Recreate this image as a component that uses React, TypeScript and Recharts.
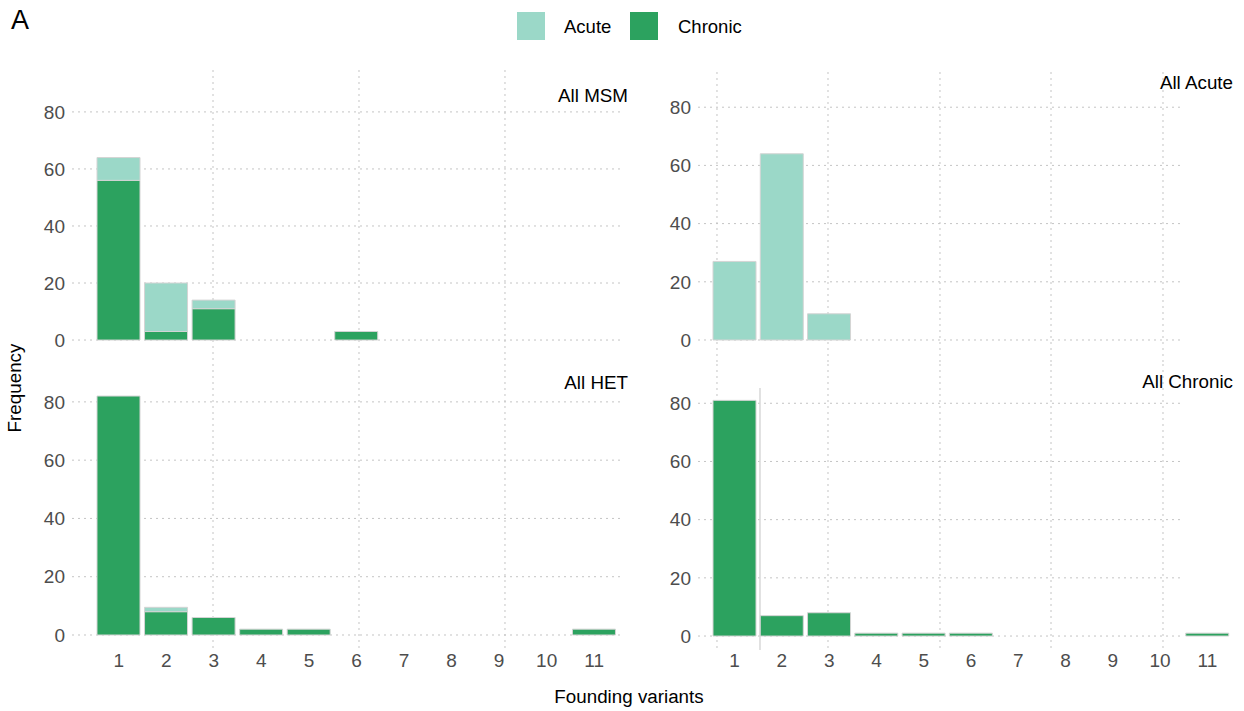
import React from "react";
import { BarChart, Bar, XAxis, YAxis, CartesianGrid } from "recharts";

// founding variant categories (x axis)
const variants = [1, 2, 3, 4, 5, 6, 7, 8, 9, 10, 11];
const yTicks = [0, 20, 40, 60, 80];

// panel values, one entry per variant
const msmChronic = [56, 3, 11, 0, 0, 3, 0, 0, 0, 0, 0];
const msmAcute = [8, 17, 3, 0, 0, 0, 0, 0, 0, 0, 0];
const acuteAcute = [27, 64, 9, 0, 0, 0, 0, 0, 0, 0, 0];
const acuteChronic = [0, 0, 0, 0, 0, 0, 0, 0, 0, 0, 0];
const hetChronic = [82, 8, 6, 2, 2, 0, 0, 0, 0, 0, 2];
const hetAcute = [0, 1.5, 0, 0, 0, 0, 0, 0, 0, 0, 0];
const chronicChronic = [81, 7, 8, 1, 1, 1, 0, 0, 0, 0, 1];
const chronicAcute = [0, 0, 0, 0, 0, 0, 0, 0, 0, 0, 0];

const ACUTE = "#9bd8c8";
const CHRONIC = "#2ca25f";
const GRID = "#c4c4c4";
const FONT = "'Liberation Sans', Arial, Helvetica, sans-serif";

const makeRows = (acute: number[], chronic: number[]) =>
  variants.map((v, i) => ({ v: String(v), acute: acute[i], chronic: chronic[i] }));

interface PanelProps {
  left: number;
  top: number;
  width: number;
  height: number;
  margin: { top: number; right: number; bottom: number; left: number };
  yDomain: [number, number];
  xPadding: { left: number; right: number };
  rows: { v: string; acute: number; chronic: number }[];
  showX: boolean;
  vFracs: number[];
  hEnd: number;
  divider?: number;
}

const Y_W = 45;
const X_H = 30;

const Panel = (p: PanelProps) => {
  const plotLeft = p.margin.left + Y_W;
  const plotWidth = p.width - plotLeft - p.margin.right;
  const plotTop = p.margin.top;
  const plotHeight = p.height - p.margin.top - p.margin.bottom - (p.showX ? X_H : 0);
  const [d0, d1] = p.yDomain;
  const tickStyle = { fontSize: 19, fill: "#4d4d4d", fontFamily: FONT };

  const renderH = (g: any) => (
    <line
      key={`h-${g.index}`}
      x1={g.x1}
      y1={g.y1}
      x2={g.x1 + (g.x2 - g.x1) * p.hEnd}
      y2={g.y2}
      stroke={GRID}
      strokeDasharray="2 4"
    />
  );

  return (
    <div style={{ position: "absolute", left: p.left, top: p.top }}>
      <BarChart width={p.width} height={p.height} data={p.rows} margin={p.margin} barSize={43}>
        <CartesianGrid
          stroke={GRID}
          strokeDasharray="2 4"
          horizontal={renderH}
          horizontalCoordinatesGenerator={() =>
            yTicks.map((t) => plotTop + ((d1 - t) / (d1 - d0)) * plotHeight)
          }
          verticalCoordinatesGenerator={() => p.vFracs.map((f) => plotLeft + f * plotWidth)}
        />
        {p.divider !== undefined && (
          <CartesianGrid
            horizontal={false}
            verticalCoordinatesGenerator={() => [plotLeft + (p.divider as number) * plotWidth]}
            vertical={(g: any) => (
              <line
                key="divider"
                x1={g.x1}
                x2={g.x2}
                y1={g.y1 + 24}
                y2={g.y2}
                stroke="#d8d8d8"
                strokeWidth={1.5}
              />
            )}
          />
        )}
        <XAxis
          dataKey="v"
          hide={!p.showX}
          height={X_H}
          padding={p.xPadding}
          interval={0}
          axisLine={false}
          tickLine={false}
          tickSize={2}
          tickMargin={2}
          tick={tickStyle}
        />
        <YAxis
          type="number"
          domain={p.yDomain}
          ticks={yTicks}
          allowDataOverflow
          width={Y_W}
          axisLine={false}
          tickLine={false}
          tickSize={5}
          tickMargin={2}
          tick={tickStyle}
        />
        <Bar dataKey="chronic" stackId="s" fill={CHRONIC} stroke="#d4d4d4" strokeWidth={1} isAnimationActive={false} />
        <Bar dataKey="acute" stackId="s" fill={ACUTE} stroke="#d4d4d4" strokeWidth={1} isAnimationActive={false} />
      </BarChart>
    </div>
  );
};

const text = (s: string, left: number, cy: number, size: number, extra: React.CSSProperties = {}) => (
  <div
    style={{
      position: "absolute",
      left,
      top: cy - size * 0.6,
      fontSize: size,
      lineHeight: `${size * 1.2}px`,
      color: "#000",
      whiteSpace: "nowrap",
      ...extra,
    }}
  >
    {s}
  </div>
);

const leftFracs = [0.2573, 0.5237, 0.7901];
const rightFracs = [0.0356, 0.2439, 0.454, 0.6623, 0.8724];

const App: React.FC = () => {
  return (
    <div
      style={{
        position: "fixed",
        left: 0,
        top: 0,
        width: 1244,
        height: 711,
        background: "#fff",
        fontFamily: FONT,
        overflow: "hidden",
      }}
    >
      {text("A", 11, 20, 27)}

      {/* legend */}
      <div style={{ position: "absolute", left: 517, top: 12, width: 28, height: 28, background: ACUTE }} />
      {text("Acute", 564, 27, 18.5)}
      <div style={{ position: "absolute", left: 630, top: 12, width: 28, height: 28, background: CHRONIC }} />
      {text("Chronic", 678, 27, 18.5)}

      <Panel
        left={20}
        top={60}
        width={600}
        height={310}
        margin={{ top: 10, right: 0, bottom: 6, left: 7 }}
        yDomain={[-8.4, 94.7]}
        xPadding={{ left: 23, right: 2 }}
        rows={makeRows(msmAcute, msmChronic)}
        showX={false}
        vFracs={leftFracs}
        hEnd={1}
      />
      <Panel
        left={650}
        top={62}
        width={581}
        height={308}
        margin={{ top: 10, right: 0, bottom: 6, left: 3 }}
        yDomain={[-8.25, 92.1]}
        xPadding={{ left: 13, right: 0 }}
        rows={makeRows(acuteAcute, acuteChronic)}
        showX={false}
        vFracs={rightFracs}
        hEnd={0.906}
      />
      <Panel
        left={20}
        top={354}
        width={600}
        height={331}
        margin={{ top: 10, right: 0, bottom: 5, left: 7 }}
        yDomain={[-5.15, 93]}
        xPadding={{ left: 23, right: 2 }}
        rows={makeRows(hetAcute, hetChronic)}
        showX={true}
        vFracs={leftFracs}
        hEnd={1}
      />
      <Panel
        left={650}
        top={354}
        width={581}
        height={331}
        margin={{ top: 10, right: 0, bottom: 5, left: 3 }}
        yDomain={[-4.8, 93.5]}
        xPadding={{ left: 13, right: 0 }}
        rows={makeRows(chronicAcute, chronicChronic)}
        showX={true}
        vFracs={rightFracs}
        hEnd={0.906}
        divider={0.1163}
      />

      {/* facet titles */}
      {text("All MSM", 428, 96, 18.8, { width: 200, textAlign: "right" })}
      {text("All Acute", 1033, 83, 18.8, { width: 200, textAlign: "right" })}
      {text("All HET", 428, 383, 18.8, { width: 200, textAlign: "right" })}
      {text("All Chronic", 1033, 382, 18.8, { width: 200, textAlign: "right" })}

      {/* axis titles */}
      {text("Founding variants", 479, 697, 18.8, { width: 300, textAlign: "center" })}
      <div
        style={{
          position: "absolute",
          left: 15 - 70,
          top: 388 - 12,
          width: 140,
          height: 24,
          lineHeight: "24px",
          fontSize: 18.8,
          textAlign: "center",
          transform: "rotate(-90deg)",
        }}
      >
        Frequency
      </div>
    </div>
  );
};

export default App;
